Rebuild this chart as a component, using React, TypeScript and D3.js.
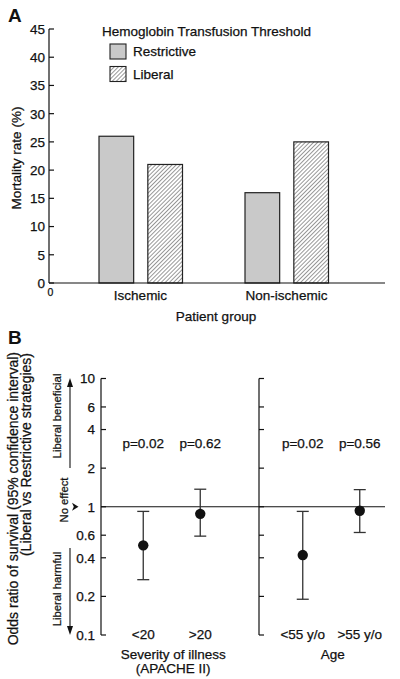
import React from "react";
import * as d3 from "d3";

// ---- Panel A data ----
const groupsA = ["Ischemic", "Non-ischemic"];
const seriesA = ["Restrictive", "Liberal"];
const restrictiveVals = [26, 16];
const liberalVals = [21, 25];
const ticksA = [0, 5, 10, 15, 20, 25, 30, 35, 40, 45];

// ---- Panel B data ----
const groupsB = ["Severity", "Age"];
const groupTitles = [["Severity of illness", "(APACHE II)"], ["Age"]];
const subLabels = [["<20", ">20"], ["<55 y/o", ">55 y/o"]];
const orVals = [[0.5, 0.88], [0.42, 0.93]];
const ciLow = [[0.27, 0.59], [0.19, 0.63]];
const ciHigh = [[0.92, 1.37], [0.92, 1.36]];
const pVals = [["p=0.02", "p=0.62"], ["p=0.02", "p=0.56"]];
const ticksB = [10, 6, 4, 2, 1, 0.6, 0.4, 0.2, 0.1];

const FONT = "'Liberation Sans', Arial, Helvetica, sans-serif";
const INK = "#111";

export default function App() {
  // Panel A scales
  const yA = d3.scaleLinear().domain([0, 45]).range([283, 29]);
  const xGroupA = d3.scaleBand().domain(groupsA).range([67.5, 359.5]).padding(0);
  const xSeriesA = d3.scaleBand().domain(seriesA).range([31.5, 115]).paddingInner(0.29);
  const valsA = [restrictiveVals, liberalVals];

  // Panel B scales
  const yB = d3.scaleLog().domain([0.1, 10]).range([635, 378.5]);
  const xGroupB = d3.scaleBand().domain(groupsB).range([92, 411]).padding(0);
  const bw = xGroupB.bandwidth();
  const subKeys = ["a", "b"];
  const xSubB = d3.scalePoint().domain(subKeys).range([bw / 2 - 28.5, bw / 2 + 28.5]);

  const axisA = 49;
  const axisB1 = 101;
  const axisB2 = 259;

  const txt = { fill: INK, stroke: INK, strokeWidth: 0.25 };

  return (
    <svg
      width={400}
      height={679}
      style={{ position: "absolute", left: 0, top: 0, background: "#fff" }}
      fontFamily={FONT}
    >
      <defs>
        <pattern id="hatch" patternUnits="userSpaceOnUse" width={2.9} height={2.9} patternTransform="rotate(45)">
          <rect width={2.9} height={2.9} fill="#fff" />
          <line x1={0} y1={0} x2={0} y2={2.9} stroke="#333" strokeWidth={1} />
        </pattern>
      </defs>
      <rect width={400} height={679} fill="#fff" />

      {/* ===== Panel A ===== */}
      <text x={8} y={22} fontSize={19} fontWeight="bold" fill={INK}>A</text>

      {groupsA.map((g, gi) =>
        seriesA.map((s, si) => {
          const v = valsA[si][gi];
          const x = (xGroupA(g) as number) + (xSeriesA(s) as number);
          return (
            <rect
              key={g + s}
              x={x}
              y={yA(v)}
              width={xSeriesA.bandwidth()}
              height={yA(0) - yA(v)}
              fill={si === 0 ? "#c9c9c9" : "url(#hatch)"}
              stroke="#222"
              strokeWidth={1.2}
            />
          );
        })
      )}

      <line x1={axisA} y1={yA(45)} x2={axisA} y2={yA(0)} stroke={INK} strokeWidth={1.2} />
      <line x1={axisA} y1={yA(0)} x2={385} y2={yA(0)} stroke={INK} strokeWidth={1.2} />
      <g {...txt} fontSize={13.5}>
        {ticksA.map((t) => (
          <g key={t}>
            <line x1={axisA} x2={axisA + 5} y1={yA(t)} y2={yA(t)} stroke={INK} strokeWidth={1.2} />
            <text x={axisA - 4} y={yA(t)} dy="0.36em" textAnchor="end">{t}</text>
          </g>
        ))}
        <text x={50.5} y={296} textAnchor="middle" fontSize={10.5}>0</text>
        {groupsA.map((g) => (
          <text key={g} x={(xGroupA(g) as number) + xGroupA.bandwidth() / 2} y={300} textAnchor="middle">
            {g}
          </text>
        ))}
        <text x={216} y={321} textAnchor="middle">Patient group</text>
        <text transform="translate(21,158) rotate(-90)" textAnchor="middle">Mortality rate (%)</text>

        {/* legend */}
        <text x={102} y={36}>Hemoglobin Transfusion Threshold</text>
        {seriesA.map((s, i) => (
          <text key={s} x={133} y={56 + i * 22.5}>{s}</text>
        ))}
      </g>
      {seriesA.map((s, i) => (
        <rect
          key={s}
          x={110}
          y={44 + i * 22.5}
          width={16}
          height={15}
          fill={i === 0 ? "#c9c9c9" : "url(#hatch)"}
          stroke="#222"
          strokeWidth={1.1}
        />
      ))}

      {/* ===== Panel B ===== */}
      <text x={8} y={344} fontSize={19} fontWeight="bold" fill={INK}>B</text>

      {[axisB1, axisB2].map((ax, ai) => (
        <g key={ax}>
          <line x1={ax} y1={yB(10)} x2={ax} y2={yB(0.1)} stroke={INK} strokeWidth={1.2} />
          {ticksB.map((t) => (
            <g key={t}>
              <line x1={ax} x2={ax + 5} y1={yB(t)} y2={yB(t)} stroke={INK} strokeWidth={1.2} />
              {ai === 0 && (
                <text x={ax - 6} y={yB(t)} dy="0.36em" textAnchor="end" fontSize={13.5} {...txt}>
                  {String(t)}
                </text>
              )}
            </g>
          ))}
        </g>
      ))}
      <line x1={axisB1} x2={385} y1={yB(1)} y2={yB(1)} stroke={INK} strokeWidth={1.2} />

      {groupsB.map((g, gi) =>
        subKeys.map((k, si) => {
          const cx = (xGroupB(g) as number) + (xSubB(k) as number);
          const yh = yB(ciHigh[gi][si]);
          const yl = yB(ciLow[gi][si]);
          return (
            <g key={g + k}>
              <line x1={cx} x2={cx} y1={yh} y2={yl} stroke="#333" strokeWidth={1.3} />
              <line x1={cx - 6} x2={cx + 6} y1={yh} y2={yh} stroke="#333" strokeWidth={1.3} />
              <line x1={cx - 6} x2={cx + 6} y1={yl} y2={yl} stroke="#333" strokeWidth={1.3} />
              <circle cx={cx} cy={yB(orVals[gi][si])} r={5.2} fill="#111" />
              <text x={cx} y={447.5} textAnchor="middle" fontSize={13.5} {...txt}>{pVals[gi][si]}</text>
              <text x={cx} y={639} textAnchor="middle" fontSize={13.5} {...txt}>{subLabels[gi][si]}</text>
            </g>
          );
        })
      )}
      {groupsB.map((g, gi) => {
        const cx = (xGroupB(g) as number) + bw / 2 + 1.5;
        return (
          <g key={g} {...txt} fontSize={13.5}>
            {groupTitles[gi].map((line, li) => (
              <text key={line} x={cx} y={659 + li * 14} textAnchor="middle">{line}</text>
            ))}
          </g>
        );
      })}

      <g {...txt}>
        <text transform="translate(18,352) rotate(-90)" textAnchor="end" fontSize={14}>
          Odds ratio of survival (95% confidence interval)
        </text>
        <text transform="translate(30.5,353) rotate(-90)" textAnchor="end" fontSize={14}>
          (Liberal vs Restrictive strategies)
        </text>
        <text transform="translate(61,416) rotate(-90)" textAnchor="middle" fontSize={11.3}>
          Liberal beneficial
        </text>
        <text transform="translate(68,500) rotate(-90)" textAnchor="middle" fontSize={11.3}>
          No effect
        </text>
        <text transform="translate(61,589) rotate(-90)" textAnchor="middle" fontSize={11.3}>
          Liberal harmful
        </text>
      </g>
      <line x1={70} x2={70} y1={468} y2={385} stroke={INK} strokeWidth={1.1} />
      <path d="M70,378 L67,387 L73,387 Z" fill={INK} />
      <line x1={70} x2={70} y1={548} y2={627} stroke={INK} strokeWidth={1.1} />
      <path d="M70,635 L67,626 L73,626 Z" fill={INK} />
      <path d={`M72,${yB(1) - 4} L78.5,${yB(1)} L72,${yB(1) + 4} L73.8,${yB(1)} Z`} fill={INK} />
    </svg>
  );
}
